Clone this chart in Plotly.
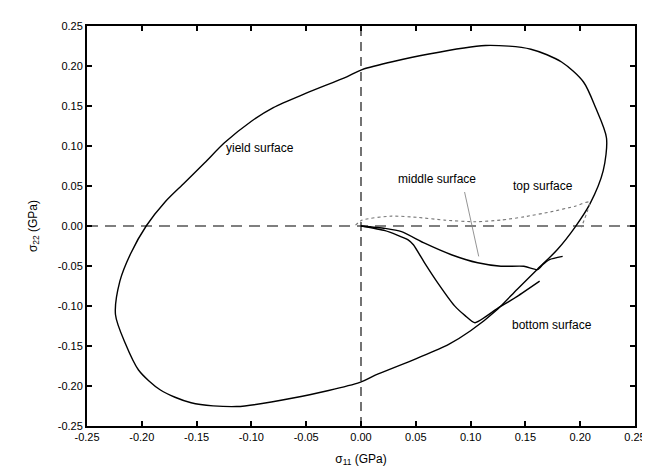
import plotly.graph_objects as go

# ---- data (GPa) ----
yield_x = [-0.196, -0.179, -0.161, -0.1426, -0.1246, -0.10, -0.08, -0.05, -0.013,
           0.001, 0.062, 0.1135, 0.155, 0.183, 0.203, 0.214, 0.224, 0.221, 0.209, 0.1955,
           0.179, 0.161, 0.1426, 0.1246, 0.10, 0.08, 0.05, 0.013, -0.001, -0.062, -0.1135,
           -0.155, -0.183, -0.203, -0.215, -0.224, -0.220, -0.210, -0.196]
yield_y = [0.0, 0.0297, 0.054, 0.079, 0.104, 0.131, 0.148, 0.166, 0.1865,
           0.1955, 0.215, 0.2257, 0.221, 0.205, 0.180, 0.148, 0.110, 0.0693, 0.028, -0.001,
           -0.0297, -0.054, -0.079, -0.104, -0.131, -0.148, -0.166, -0.1865, -0.1955, -0.215, -0.2257,
           -0.221, -0.205, -0.180, -0.147, -0.111, -0.069, -0.034, 0.0]

top_x = [-0.005, 0.001, 0.028, 0.052, 0.076, 0.1035, 0.1277, 0.149, 0.173, 0.1955, 0.2084, 0.201]
top_y = [0.001, 0.0074, 0.0124, 0.0107, 0.0074, 0.0053, 0.0074, 0.0115, 0.0177, 0.0248, 0.030, -0.0016]

mid_x = [0.0, 0.022, 0.037, 0.058, 0.0825, 0.1065, 0.1277, 0.1487, 0.161, 0.166, 0.172, 0.184]
mid_y = [0.0, -0.003, -0.007, -0.0215, -0.0359, -0.046, -0.0503, -0.0503, -0.0545, -0.048, -0.042, -0.038]

bot_x = [0.0, 0.022, 0.043, 0.0478, 0.058, 0.070, 0.0854, 0.095, 0.104, 0.1246, 0.1426, 0.163]
bot_y = [0.0, -0.0058, -0.0173, -0.0235, -0.046, -0.071, -0.0998, -0.112, -0.121, -0.103, -0.088, -0.069]

mid_leader_x = [0.0945, 0.1074]
mid_leader_y = [0.0425, -0.038]

labels = ["yield surface", "middle surface", "top surface", "bottom surface"]
label_x = [-0.092, 0.069, 0.166, 0.174]
label_y = [0.098, 0.059, 0.0495, -0.124]

tick_vals = [-0.25, -0.20, -0.15, -0.10, -0.05, 0.0, 0.05, 0.10, 0.15, 0.20, 0.25]
tick_text = ["-0.25", "-0.20", "-0.15", "-0.10", "-0.05", "0.00", "0.05", "0.10", "0.15", "0.20", "0.25"]

FONT = "Liberation Sans, Arial, sans-serif"

fig = go.Figure()

# dashed reference axes through origin
fig.add_trace(go.Scatter(x=[-0.25, 0.25], y=[0, 0], mode="lines",
                         line=dict(color="black", width=1.2, dash="11px,7px"), hoverinfo="skip"))
fig.add_trace(go.Scatter(x=[0, 0], y=[-0.25, 0.25], mode="lines",
                         line=dict(color="black", width=1.1, dash="9px,6px"), hoverinfo="skip"))

fig.add_trace(go.Scatter(x=yield_x, y=yield_y, mode="lines",
                         line=dict(color="black", width=1.4, shape="spline", smoothing=0.8)))
fig.add_trace(go.Scatter(x=top_x, y=top_y, mode="lines",
                         line=dict(color="#777777", width=1.1, dash="dot", shape="spline", smoothing=0.6)))
fig.add_trace(go.Scatter(x=mid_x, y=mid_y, mode="lines",
                         line=dict(color="black", width=1.4, shape="spline", smoothing=0.6)))
fig.add_trace(go.Scatter(x=bot_x, y=bot_y, mode="lines",
                         line=dict(color="black", width=1.4, shape="spline", smoothing=0.5)))
fig.add_trace(go.Scatter(x=mid_leader_x, y=mid_leader_y, mode="lines", line=dict(color="#888888", width=0.9)))

for t, lx, ly in zip(labels, label_x, label_y):
    fig.add_annotation(x=lx, y=ly, text=t, showarrow=False,
                       font=dict(family=FONT, size=12, color="black"))

axis_common = dict(range=[-0.25, 0.25], tickvals=tick_vals, ticktext=tick_text,
                   showline=True, linecolor="black", linewidth=2, mirror="ticks",
                   ticks="inside", ticklen=5, tickwidth=1.5, tickcolor="black",
                   showgrid=False, zeroline=False,
                   tickfont=dict(family=FONT, size=11, color="black"))

fig.update_layout(
    width=650, height=470,
    margin=dict(l=79, r=18, t=14, b=52),
    paper_bgcolor="white", plot_bgcolor="white",
    showlegend=False,
    xaxis=dict(**axis_common,
               title=dict(text="σ<sub>11</sub> (GPa)", standoff=12,
                          font=dict(family=FONT, size=12, color="black"))),
    yaxis=dict(**axis_common,
               title=dict(text="σ<sub>22</sub> (GPa)", standoff=18,
                          font=dict(family=FONT, size=12, color="black"))),
)

fig.write_html("out.html")
